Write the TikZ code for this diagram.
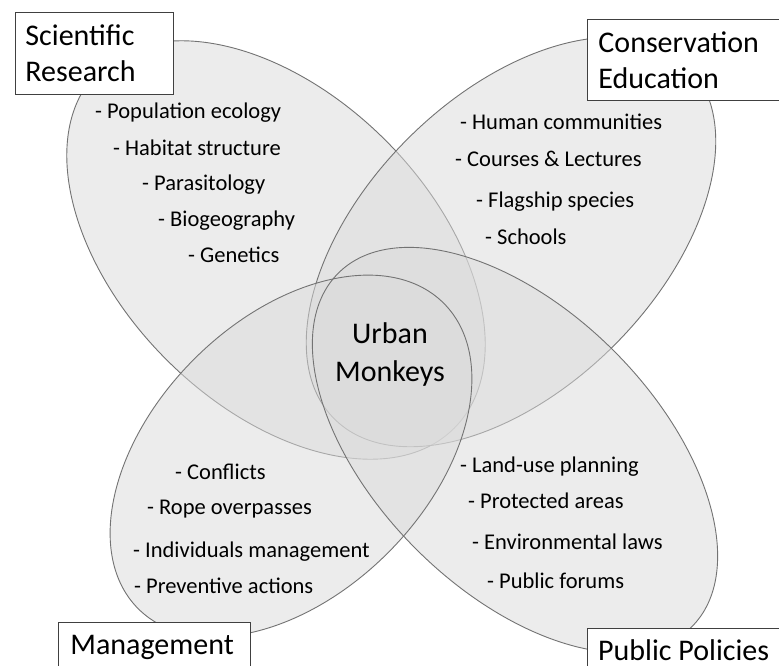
\documentclass[tikz,border=0pt]{standalone}
\usepackage{fontspec}
\setmainfont{Carlito}
\usetikzlibrary{shapes, positioning}
\tikzstyle{area} = [fill=black!14, fill opacity=0.5]
\tikzstyle{borde} = [draw=black!55, line width=0.9pt]
\tikzstyle{fancytitle} = [draw=black!75, fill=white, line width=0.9pt, anchor=north west, align=left, inner xsep=10pt, font=\fontsize{30}{36}\selectfont]
\tikzstyle{titletext} = [anchor=base west, inner sep=0pt, font=\fontsize{30}{36}\selectfont]
\tikzstyle{punto} = [anchor=base west, inner sep=0pt, font=\fontsize{22.5}{26}\selectfont]
\tikzstyle{centro} = [anchor=base, inner sep=0pt, font=\fontsize{30}{36}\selectfont]

\begin{document}
\begin{tikzpicture}[x=1pt, y=-1pt]
		\useasboundingbox (0,0) rectangle (779,666);
		\fill[white] (0,0) rectangle (779,666);
		% centros de las elipses
		\coordinate (sr) at (276,250);
		\coordinate (ce) at (511,242);
		\coordinate (mg) at (291,456);
		\coordinate (pp) at (515,450);
		% elipses de arriba
		\draw [area, borde, rotate around={-45:(sr)}] (sr) ellipse [x radius=252, y radius=155];
		\draw [area, borde, rotate around={45:(ce)}] (ce) ellipse [x radius=250, y radius=146];
		% elipses de abajo
		\fill [area, rotate around={45:(mg)}] (mg) ellipse [x radius=216, y radius=137];
		\fill [area, rotate around={-45:(pp)}] (pp) ellipse [x radius=250, y radius=140];
		\draw [borde, rotate around={45:(mg)}] (mg) ellipse [x radius=216, y radius=137];
		\draw [borde, rotate around={-45:(pp)}] (pp) ellipse [x radius=250, y radius=140];
		% titulos
		\node [fancytitle, text width=138pt, minimum height=82pt] (sci) at (15,12) {Scientific\\Research};
		\node [fancytitle, text width=190pt, minimum height=81pt, inner xsep=11pt] (cons) at (587,19) {Conservation\\Education};
		\node [fancytitle, text width=168pt, minimum height=50pt, inner xsep=12pt] (man) at (58,622) {Management};
		\coordinate (polnw) at (587,628);
		\coordinate (polse) at (800,700);
		\draw [draw=black!75, fill=white, line width=0.9pt] (polnw) rectangle (polse);
		\node [titletext] (pol) at (598,660) {Public Policies};
		% texto central
		\node [centro] (urb) at (390,343) {Urban};
		\node [centro] (mon) at (390,381) {Monkeys};
		% Scientific Research
		\node [punto] (s1) at (95,119) {- Population ecology};
		\node [punto] (s2) at (113,155) {- Habitat structure};
		\node [punto] (s3) at (142,190) {- Parasitology};
		\node [punto] (s4) at (158,226) {- Biogeography};
		\node [punto] (s5) at (188,262) {- Genetics};
		% Conservation Education
		\node [punto] (c1) at (460,130) {- Human communities};
		\node [punto] (c2) at (455,167) {- Courses \& Lectures};
		\node [punto] (c3) at (476,207) {- Flagship species};
		\node [punto] (c4) at (485,244) {- Schools};
		% Management
		\node [punto] (m1) at (175,479) {- Conflicts};
		\node [punto] (m2) at (147,514) {- Rope overpasses};
		\node [punto] (m3) at (133,557) {- Individuals management};
		\node [punto] (m4) at (134,593) {- Preventive actions};
		% Public Policies
		\node [punto] (p1) at (460,472) {- Land-use planning};
		\node [punto] (p2) at (468,508) {- Protected areas};
		\node [punto] (p3) at (472,549) {- Environmental laws};
		\node [punto] (p4) at (487,588) {- Public forums};
	\end{tikzpicture}
\end{document}
